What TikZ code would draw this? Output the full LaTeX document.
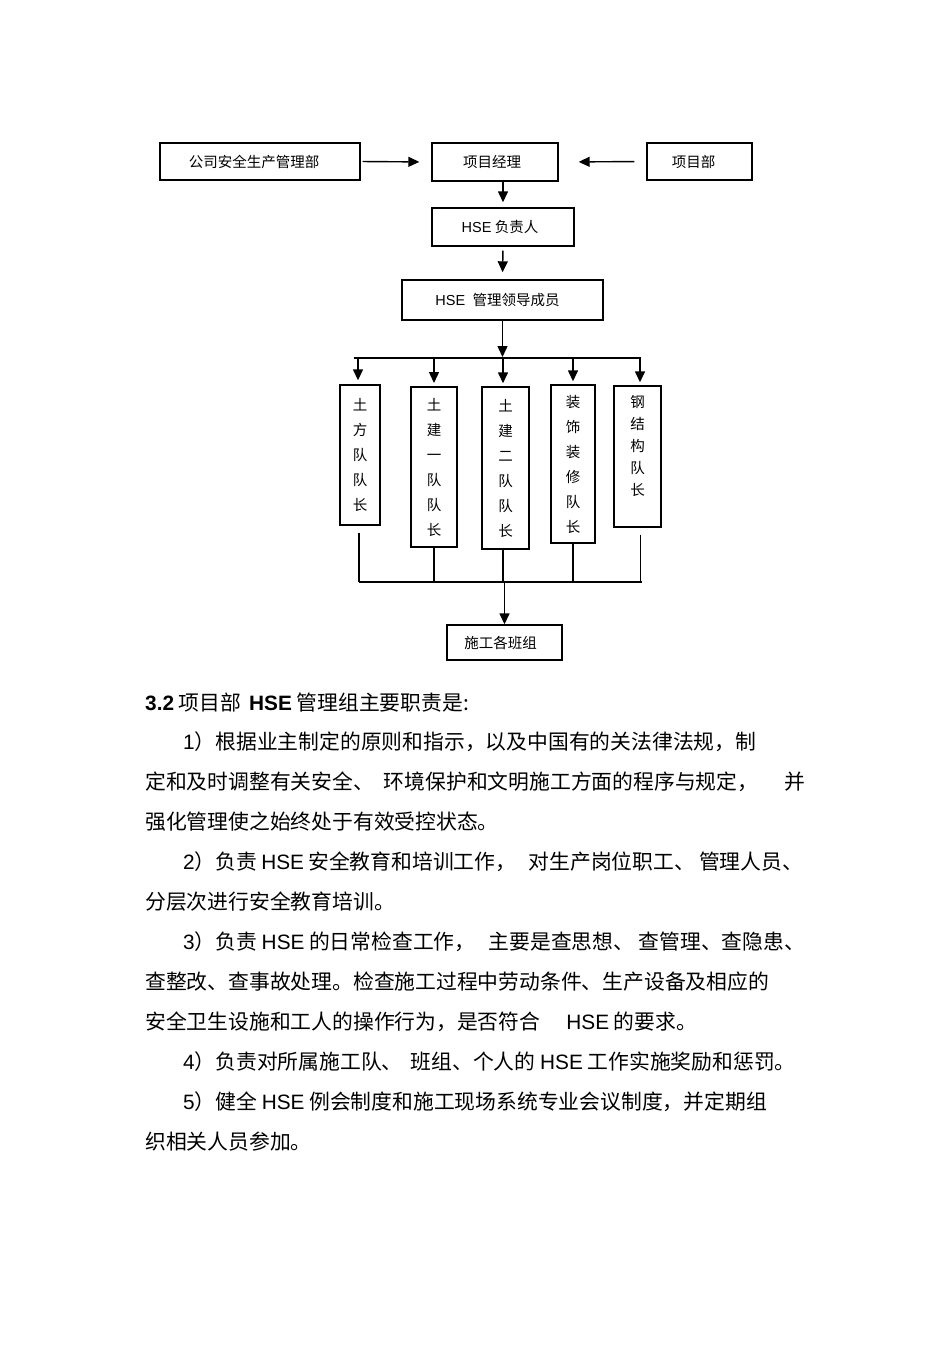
\documentclass[tikz,border=0pt]{standalone}
\usepackage{fontspec}
\setmainfont{Noto Sans CJK SC}
\newfontfamily\la{Liberation Sans}
\usetikzlibrary{arrows.meta}
\tikzset{
  box/.style={draw, line width=1.4pt, inner sep=0pt, font=\fontsize{14.5}{25}\selectfont},
  colbox/.style={box, align=center},
  arr/.style={line width=1.4pt, -{Triangle[length=11pt,width=10pt]}},
  ln/.style={line width=1.4pt},
  body/.style={anchor=west, inner sep=0pt, font=\fontsize{20.8}{25}\selectfont},
}
\begin{document}
\begin{tikzpicture}[x=1pt,y=-1pt]
\path[use as bounding box, fill=white] (0,0) rectangle (950,1345);

% top row
\node[box, minimum width=200pt, minimum height=37pt] (gs) at (260,161.5) {公司安全生产管理部\hspace*{12pt}};
\node[box, minimum width=126pt, minimum height=38pt] (xm) at (495,162) {项目经理\hspace*{6pt}};
\node[box, minimum width=105pt, minimum height=37pt] (xb) at (699.5,161.5) {项目部\hspace*{12pt}};
\node[box, minimum width=142pt, minimum height=38pt] (hse) at (503,227) {{\la HSE} 负责人\hspace*{6pt}};
\node[box, minimum width=201pt, minimum height=40pt] (gl) at (502.5,300) {{\la HSE}\; 管理领导成员\hspace*{10pt}};

\draw[arr, shorten <=2pt, shorten >=12pt] (gs.east) -- (xm.west);
\draw[arr, shorten <=12pt, shorten >=20pt] (xb.west) -- (xm.east);
\draw[arr, shorten >=5pt] (hse.north |- xm.south) -- (hse.north);
\draw[arr, shorten <=4pt, shorten >=7pt] (hse.south) -- (gl.north);

% team leader columns
\node[colbox, minimum width=40pt, minimum height=140pt] (tf) at (360,455) {土\\方\\队\\队\\长};
\node[colbox, minimum width=46pt, minimum height=160pt, line width=2pt] (tj1) at (434,467) {土\\建\\一\\队\\队\\长};
\node[colbox, minimum width=47pt, minimum height=162pt] (tj2) at (505.5,468) {土\\建\\二\\队\\队\\长};
\node[colbox, minimum width=44pt, minimum height=158pt] (zs) at (573,464) {装\\饰\\装\\修\\队\\长};
\node[colbox, minimum width=47pt, minimum height=141pt, font=\fontsize{14.5}{22}\selectfont] (gj) at (637.5,456.5) {钢\\结\\构\\队\\长\\ \mbox{}};

\node[box, minimum width=115pt, minimum height=35pt] (sg) at (504.5,642.5) {施工各班组\hspace*{8pt}};

% top bus
\coordinate (bl) at (354,358);
\coordinate (br) at (641,358);
\draw[ln] (bl) -- (br);
\draw[arr, shorten >=1pt] (gl.south) -- (gl.south |- bl);
\draw[arr, shorten >=4pt] ([xshift=-2pt]tf.north |- bl) -- ([xshift=-2pt]tf.north);
\draw[arr, shorten >=3pt] (tj1.north |- bl) -- (tj1.north);
\draw[arr, shorten >=3pt] ([xshift=-2.5pt]tj2.north |- bl) -- ([xshift=-2.5pt]tj2.north);
\draw[arr, shorten >=3pt] (zs.north |- bl) -- (zs.north);
\draw[arr, shorten >=3pt] ([xshift=2.5pt]gj.north |- bl) -- ([xshift=2.5pt]gj.north);

% bottom bus
\coordinate (cl) at (359,582);
\coordinate (cr) at (642,582);
\draw[ln] (cl) -- (cr);
\draw[ln, shorten <=7pt] ([xshift=-1pt]tf.south) -- ([xshift=-1pt]tf.south |- cl);
\draw[ln] (tj1.south) -- (tj1.south |- cl);
\draw[ln] ([xshift=-2.5pt]tj2.south) -- ([xshift=-2.5pt]tj2.south |- cl);
\draw[ln] (zs.south) -- (zs.south |- cl);
\draw[ln, shorten <=7pt] ([xshift=3pt]gj.south) -- ([xshift=3pt]gj.south |- cl);
\draw[arr] (sg.north |- cl) -- (sg.north);

% body text
\node[body] (t0) at (145,703) {{\la\bfseries 3.2} 项目部\hspace{8pt}{\la\bfseries HSE} 管理组主要职责是:};
\node[body] (t1) at (183,742) {{\la 1}）根据业主制定的原则和指示，以及中国有的关法律法规，制};
\node[body] (t2) at (145,782) {\makebox[660pt][s]{定和及时调整有关安全、 环境保护和文明施工方面的程序与规定， \hspace{6pt} 并}};
\node[body] (t3) at (145,822) {强化管理使之始终处于有效受控状态。};
\node[body] (t4) at (183,862) {\makebox[620pt][s]{{\la 2}）负责 {\la HSE} 安全教育和培训工作， \hspace{4pt} 对生产岗位职工、 管理人员、}};
\node[body] (t5) at (145,902) {分层次进行安全教育培训。};
\node[body] (t6) at (183,942) {\makebox[622pt][s]{{\la 3}）负责 {\la HSE} 的日常检查工作， \hspace{4pt} 主要是查思想、 查管理、查隐患、}};
\node[body] (t7) at (145,982) {查整改、查事故处理。检查施工过程中劳动条件、生产设备及相应的};
\node[body] (t8) at (145,1022) {安全卫生设施和工人的操作行为，是否符合\hspace{26pt}{\la HSE} 的要求。};
\node[body] (t9) at (183,1062) {{\la 4}）负责对所属施工队、\hspace{8pt}班组、个人的 {\la HSE} 工作实施奖励和惩罚。};
\node[body] (t10) at (183,1102) {{\la 5}）健全 {\la HSE} 例会制度和施工现场系统专业会议制度，并定期组};
\node[body] (t11) at (145,1142) {织相关人员参加。};
\end{tikzpicture}
\end{document}
